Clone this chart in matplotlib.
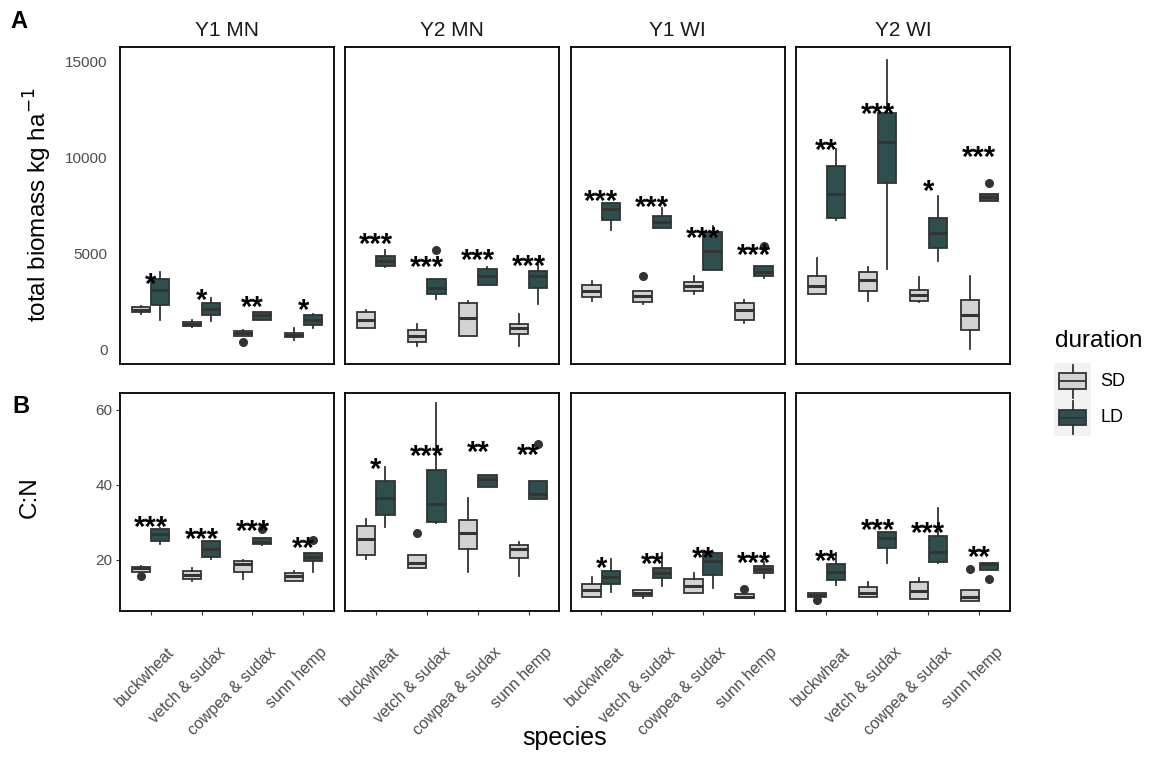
import matplotlib
matplotlib.use("Agg")
import matplotlib.pyplot as plt
import matplotlib.transforms as mtransforms

plt.rcParams['font.family'] = ['Liberation Sans', 'DejaVu Sans']

sites = ["Y1 MN", "Y2 MN", "Y1 WI", "Y2 WI"]
species = ["buckwheat", "vetch & sudax", "cowpea & sudax", "sunn hemp"]

# box stats per site, per species: [whisker low, q1, median, q3, whisker high]
bio_sd = [
    [[1870, 1980, 2080, 2240, 2290], [1190, 1210, 1340, 1460, 1520], [730, 730, 850, 950, 1000], [490, 640, 760, 870, 1130]],
    [[1150, 1150, 1540, 1940, 2050], [210, 380, 690, 1000, 1350], [730, 730, 1650, 2430, 2510], [210, 820, 1130, 1350, 1870]],
    [[2550, 2720, 3040, 3350, 3590], [2390, 2480, 2780, 3040, 3040], [2900, 3070, 3330, 3520, 3850], [1390, 1560, 2080, 2430, 2600]],
    [[2880, 2880, 3330, 3850, 4770], [2550, 3070, 3640, 4020, 4280], [2460, 2550, 2830, 3100, 3780], [50, 1040, 1820, 2600, 3850]],
]
bio_ld = [
    [[1560, 2320, 3120, 3680, 4020], [1470, 1800, 2130, 2430, 2690], [1560, 1560, 1790, 1940, 1940], [1130, 1300, 1530, 1790, 1870]],
    [[4300, 4370, 4610, 4860, 5200], [2640, 2900, 3230, 3680, 3680], [3380, 3380, 3820, 4200, 4300], [2390, 3210, 3820, 4080, 4420]],
    [[6240, 6730, 7320, 7630, 7630], [6310, 6310, 6640, 6940, 7370], [4130, 4130, 5150, 6110, 6420], [3730, 3820, 4020, 4340, 4340]],
    [[6730, 6820, 8070, 9540, 10410], [4200, 8650, 10790, 12280, 15040], [4630, 5290, 6040, 6850, 8010], [7720, 7720, 7910, 8100, 8100]],
]
bio_sd_out = [[[], [], [400], []], [[], [], [], []], [[], [3850], [], []], [[], [], [], []]]
bio_ld_out = [[[], [], [], []], [[], [5200], [], []], [[], [], [], [5380]], [[], [], [], [8670]]]
bio_stars = [["*", "*", "**", "*"], ["***", "***", "***", "***"],
             ["***", "***", "***", "***"], ["**", "***", "*", "***"]]
bio_star_y = [[3640, 2810, 2430, 2290], [5720, 4510, 4860, 4590],
              [7950, 7630, 6020, 5120], [10580, 12450, 8450, 10230]]

cn_sd = [
    [[16.9, 16.9, 17.8, 18.2, 18.4], [14.4, 14.9, 16.0, 17.1, 17.8], [14.9, 16.9, 18.9, 19.6, 20.0], [14.4, 14.4, 15.6, 16.4, 17.1]],
    [[20.3, 21.3, 25.5, 29.1, 30.9], [17.8, 17.8, 19.3, 21.3, 21.3], [16.9, 22.9, 27.1, 30.7, 36.4], [15.6, 20.4, 22.9, 24.0, 24.7]],
    [[10.2, 10.2, 12.0, 13.6, 15.4], [9.9, 10.4, 11.3, 12.0, 12.0], [11.1, 11.1, 13.1, 14.9, 16.4], [9.8, 9.8, 10.2, 10.9, 11.2]],
    [[10.1, 10.1, 10.7, 11.1, 11.1], [10.1, 10.1, 11.3, 12.9, 14.2], [9.6, 9.6, 11.8, 14.2, 15.1], [9.1, 9.1, 10.0, 12.0, 12.0]],
]
cn_ld = [
    [[24.2, 25.1, 26.9, 28.2, 28.4], [20.3, 20.9, 22.9, 25.1, 25.1], [23.9, 24.2, 24.9, 25.8, 25.8], [16.9, 19.6, 20.9, 21.8, 21.8]],
    [[28.9, 31.9, 36.6, 41.1, 44.9], [29.8, 30.2, 34.9, 44.0, 61.9], [39.5, 39.5, 41.6, 42.7, 42.7], [36.2, 36.2, 37.5, 41.1, 41.1]],
    [[11.4, 13.6, 15.5, 17.1, 20.2], [13.1, 15.3, 16.6, 17.9, 21.8], [12.6, 16.0, 19.6, 21.8, 22.0], [15.3, 16.5, 17.5, 18.5, 19.5]],
    [[13.3, 14.7, 16.8, 18.9, 21.9], [19.1, 23.3, 25.8, 27.4, 27.4], [19.1, 19.4, 22.1, 26.5, 33.9], [17.3, 17.3, 18.9, 19.3, 19.3]],
]
cn_sd_out = [[[15.7], [], [], []], [[], [27.3], [], []], [[], [], [], [12.2]], [[9.3], [], [], [17.5]]]
cn_ld_out = [[[], [], [28.3], [25.3]], [[], [], [], [50.9]], [[], [], [], []], [[], [], [], [14.9]]]
cn_stars = [["***", "***", "***", "**"], ["*", "***", "**", "**"],
            ["*", "**", "**", "***"], ["**", "***", "***", "**"]]
cn_star_y = [[29.8, 26.7, 28.9, 24.2], [45.3, 48.9, 49.9, 49.1],
             [18.9, 20.0, 21.6, 20.4], [20.9, 29.2, 28.4, 22.0]]

W, H = 1149, 758
SD_COL = "#D3D3D3"
LD_COL = "#2F4F4F"
EDGE = "#333333"
TICK_COL = "#4D4D4D"

fig = plt.figure(figsize=(W / 100, H / 100), dpi=100)


def px_axes(x0, y0, x1, y1):
    return fig.add_axes([x0 / W, 1 - y1 / H, (x1 - x0) / W, (y1 - y0) / H])


def to_stats(vals, fl):
    lo, q1, med, q3, hi = vals
    return dict(whislo=lo, q1=q1, med=med, q3=q3, whishi=hi, fliers=fl)


def draw_boxes(ax, vals, fliers, color, offset):
    stats = [to_stats(v, f) for v, f in zip(vals, fliers)]
    pos = [i + 1 + offset for i in range(len(stats))]
    ax.bxp(stats, positions=pos, widths=0.36, patch_artist=True, showcaps=False,
           boxprops=dict(facecolor=color, edgecolor=EDGE, linewidth=1.3),
           medianprops=dict(color=EDGE, linewidth=2.2),
           whiskerprops=dict(color=EDGE, linewidth=1.3),
           flierprops=dict(marker='o', markerfacecolor=EDGE, markeredgecolor=EDGE,
                           markersize=5.5),
           manage_ticks=False)


def draw_stars(ax, labels, ys):
    # significance labels, nudged so the glyph centre sits on the value
    off = mtransforms.ScaledTranslation(0, -9.5 / 72, fig.dpi_scale_trans)
    for i, (lab, y) in enumerate(zip(labels, ys)):
        ax.text(i + 1, y, lab, ha='center', va='baseline', fontsize=21,
                fontweight='bold', color='black', zorder=10,
                transform=ax.transData + off)


lefts = [120, 345.3, 570.6, 795.9]
pw = 214
rows = [(47, 364), (393, 611)]

for j, site in enumerate(sites):
    x0 = lefts[j]
    # top row: biomass
    ax = px_axes(x0, rows[0][0], x0 + pw, rows[0][1])
    draw_boxes(ax, bio_sd[j], bio_sd_out[j], SD_COL, -0.1875)
    draw_boxes(ax, bio_ld[j], bio_ld_out[j], LD_COL, 0.1875)
    draw_stars(ax, bio_stars[j], bio_star_y[j])
    ax.set_xlim(0.4, 4.6)
    ax.set_ylim(-745, 15730)
    ax.set_xticks([])
    ax.set_yticks([0, 5000, 10000, 15000])
    ax.tick_params(axis='y', length=0, pad=9, labelsize=11, labelcolor=TICK_COL)
    if j > 0:
        ax.set_yticklabels([])
    ax.set_title(site, fontsize=15, color='#1A1A1A', pad=8)
    for s in ax.spines.values():
        s.set_linewidth(1.3)

    # bottom row: C:N
    ax2 = px_axes(x0, rows[1][0], x0 + pw, rows[1][1])
    draw_boxes(ax2, cn_sd[j], cn_sd_out[j], SD_COL, -0.1875)
    draw_boxes(ax2, cn_ld[j], cn_ld_out[j], LD_COL, 0.1875)
    draw_stars(ax2, cn_stars[j], cn_star_y[j])
    ax2.set_xlim(0.4, 4.6)
    ax2.set_ylim(6.4, 64.5)
    ax2.set_yticks([20, 40, 60])
    ax2.tick_params(axis='y', length=3, pad=2.5, labelsize=11, labelcolor=TICK_COL,
                    color='#333333')
    if j > 0:
        ax2.tick_params(axis='y', length=0)
        ax2.set_yticklabels([])
    ax2.set_xticks([1, 2, 3, 4])
    ax2.set_xticklabels(species, rotation=45, ha='right', va='center',
                        rotation_mode='anchor', fontsize=11.5, color=TICK_COL)
    ax2.tick_params(axis='x', length=3, pad=25, color='#333333')
    shift = mtransforms.ScaledTranslation(21 / 100, 0, fig.dpi_scale_trans)
    for lab in ax2.get_xticklabels():
        lab.set_transform(lab.get_transform() + shift)
    for s in ax2.spines.values():
        s.set_linewidth(1.3)

# axis titles and panel tags
fig.text(38 / W, 1 - 205 / H, 'total biomass kg ha$^{-1}$', rotation=90,
         ha='center', va='center', fontsize=17.5)
fig.text(30 / W, 1 - 497 / H, 'C:N', rotation=90, ha='center', va='center',
         fontsize=17.5)
fig.text(565 / W, 1 - 745 / H, 'species', ha='center', va='baseline', fontsize=18)
fig.text(10 / W, 1 - 28 / H, 'A', fontsize=17, fontweight='bold', va='baseline')
fig.text(12 / W, 1 - 413 / H, 'B', fontsize=17, fontweight='bold', va='baseline')

# legend
fig.text(1055 / W, 1 - 347 / H, 'duration', fontsize=17.5, va='baseline')
key_stats = [dict(whislo=0.05, q1=0.3, med=0.5, q3=0.72, whishi=0.95, fliers=[])]
for k, (lab, col) in enumerate([("SD", SD_COL), ("LD", LD_COL)]):
    ky0 = 363 + k * 36.5
    kax = px_axes(1054, ky0, 1091, ky0 + 36.5)
    kax.bxp(key_stats, positions=[0.5], widths=0.75, patch_artist=True, showcaps=False,
            showfliers=False,
            boxprops=dict(facecolor=col, edgecolor=EDGE, linewidth=1.3),
            medianprops=dict(color=EDGE, linewidth=1.3),
            whiskerprops=dict(color=EDGE, linewidth=1.3), manage_ticks=False)
    kax.set_xlim(0, 1)
    kax.set_ylim(0, 1)
    kax.axis('off')
    kax.add_patch(plt.Rectangle((0, 0), 1, 1, facecolor='#F2F2F2', zorder=0,
                                transform=kax.transAxes))
    fig.text(1100 / W, 1 - (ky0 + 18.5) / H, lab, fontsize=13, va='center')

fig.savefig('out.png', dpi=100, facecolor='white')
